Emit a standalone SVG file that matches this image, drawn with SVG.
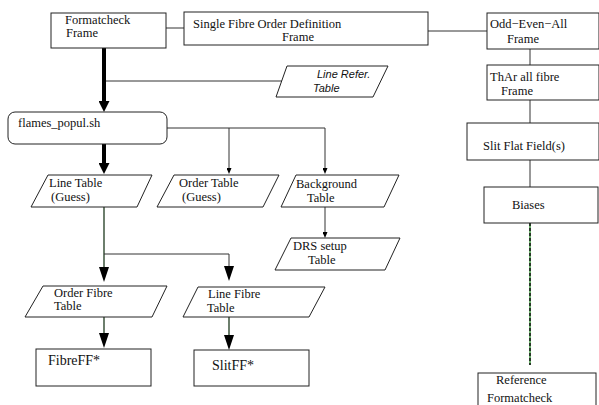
<svg xmlns="http://www.w3.org/2000/svg" width="599" height="405" viewBox="0 0 599 405">
<defs>
<style>
.box{fill:#fff;stroke:#222;stroke-width:1}
.t{font-family:"Liberation Serif","Times New Roman",serif;font-size:12.5px;fill:#111}
.big{font-size:14px}
.it{font-family:"Liberation Sans",Arial,sans-serif;font-style:italic;font-size:11px;fill:#111}
.c{fill:none;stroke:#333;stroke-width:1}
.thick{fill:none;stroke:#000;stroke-width:4}
.g{fill:none;stroke:#1e3a1e;stroke-width:1.3}
</style>
<marker id="mThick" markerUnits="userSpaceOnUse" markerWidth="11" markerHeight="11" viewBox="0 0 11 11" refX="0" refY="5.5" orient="auto"><path d="M0,0 L11,5.5 L0,11 z" fill="#000"/></marker>
<marker id="mBig" markerUnits="userSpaceOnUse" markerWidth="15" markerHeight="10" viewBox="0 0 15 10" refX="0" refY="5" orient="auto"><path d="M0,0 L15,5 L0,10 z" fill="#000"/></marker>
<marker id="mSmall" markerUnits="userSpaceOnUse" markerWidth="6" markerHeight="5" viewBox="0 0 6 5" refX="0" refY="2.5" orient="auto"><path d="M0,0 L6,2.5 L0,5 z" fill="#000"/></marker>
</defs>
<rect width="599" height="405" fill="#fff"/>
<g id="connectors">
<path class="c" d="M166,28 H184"/>
<path class="c" d="M428,31 H487"/>
<path class="c" d="M530,49 V65"/>
<path class="c" d="M530,100 V123"/>
<path class="c" d="M530,160 V187"/>
<path d="M530,223 V365" stroke="#3c9a3c" stroke-width="1.5" fill="none"/>
<path d="M530,223 V365" stroke="#111" stroke-width="1.5" stroke-dasharray="3,2" fill="none"/>
<path class="c" d="M104,81 H282"/>
<path class="thick" d="M104,48 V101" marker-end="url(#mThick)"/>
<path class="thick" d="M104,144 V163" marker-end="url(#mThick)"/>
<path class="c" d="M167,128 H325"/>
<path class="c" d="M229,128 V168" marker-end="url(#mSmall)"/>
<path class="c" d="M325,128 V168" marker-end="url(#mSmall)"/>
<path class="c" d="M325,207 V232" marker-end="url(#mSmall)"/>
<path class="g" d="M104,207 V267" marker-end="url(#mBig)"/>
<path class="c" d="M104,254 H229 V266" marker-end="url(#mBig)"/>
<path class="g" d="M104,317 V333" marker-end="url(#mBig)"/>
<path class="g" d="M229,317 V335" marker-end="url(#mBig)"/>
</g>
<g id="formatcheck">
<rect class="box" x="51" y="13" width="115" height="35"/>
<text class="t" x="65" y="24">Formatcheck</text>
<text class="t" x="66" y="37">Frame</text>
</g>
<g id="single-fibre">
<rect class="box" x="184" y="12" width="244" height="33"/>
<text class="t" x="193" y="28">Single Fibre Order Definition</text>
<text class="t" x="282" y="41">Frame</text>
</g>
<g id="odd-even">
<rect class="box" x="487" y="13" width="112" height="36"/>
<text class="t" x="490" y="28">Odd−Even−All</text>
<text class="t" x="507" y="43">Frame</text>
</g>
<g id="thar">
<rect class="box" x="487" y="65" width="112" height="35"/>
<text class="t" x="490" y="81">ThAr all fibre</text>
<text class="t" x="501" y="95">Frame</text>
</g>
<g id="slit-flat">
<rect class="box" x="467" y="123" width="132" height="37"/>
<text class="t" x="483" y="150">Slit Flat Field(s)</text>
</g>
<g id="biases">
<rect class="box" x="484" y="187" width="114" height="36"/>
<text class="t" x="512" y="209">Biases</text>
</g>
<g id="reference">
<rect class="box" x="478" y="373" width="118" height="45"/>
<text class="t" x="496" y="384">Reference</text>
<text class="t" x="487" y="402">Formatcheck</text>
</g>
<g id="line-refer">
<polygon class="box" points="287,66 388,66 373,97 276,97"/>
<text class="it" x="317" y="78">Line Refer.</text>
<text class="it" x="313" y="92">Table</text>
</g>
<g id="flames-popul">
<rect class="box" x="8" y="112" width="159" height="32" rx="7" ry="7"/>
<text class="t" x="18" y="127">flames_popul.sh</text>
</g>
<g id="line-table">
<polygon class="box" points="48,175 152,175 137,207 31,207"/>
<text class="t" x="49" y="187">Line Table</text>
<text class="t" x="51" y="201">(Guess)</text>
</g>
<g id="order-table">
<polygon class="box" points="174,175 279,175 263,207 157,207"/>
<text class="t" x="179" y="187">Order Table</text>
<text class="t" x="182" y="201">(Guess)</text>
</g>
<g id="background-table">
<polygon class="box" points="296,175 399,175 384,207 281,207"/>
<text class="t" x="296" y="188">Background</text>
<text class="t" x="307" y="202">Table</text>
</g>
<g id="drs-table">
<polygon class="box" points="291,238 400,238 385,270 275,270"/>
<text class="t" x="293" y="250">DRS setup</text>
<text class="t" x="308" y="264">Table</text>
</g>
<g id="order-fibre">
<polygon class="box" points="43,286 167,286 152,317 25,317"/>
<text class="t" x="54" y="297">Order Fibre</text>
<text class="t" x="54" y="310">Table</text>
</g>
<g id="line-fibre">
<polygon class="box" points="198,287 325,287 309,317 183,317"/>
<text class="t" x="208" y="298">Line Fibre</text>
<text class="t" x="207" y="312">Table</text>
</g>
<g id="fibreff">
<rect class="box" x="36" y="349" width="115" height="37"/>
<text class="t big" x="48" y="365">FibreFF*</text>
</g>
<g id="slitff">
<rect class="box" x="194" y="350" width="115" height="36"/>
<text class="t big" x="212" y="370">SlitFF*</text>
</g>
</svg>
